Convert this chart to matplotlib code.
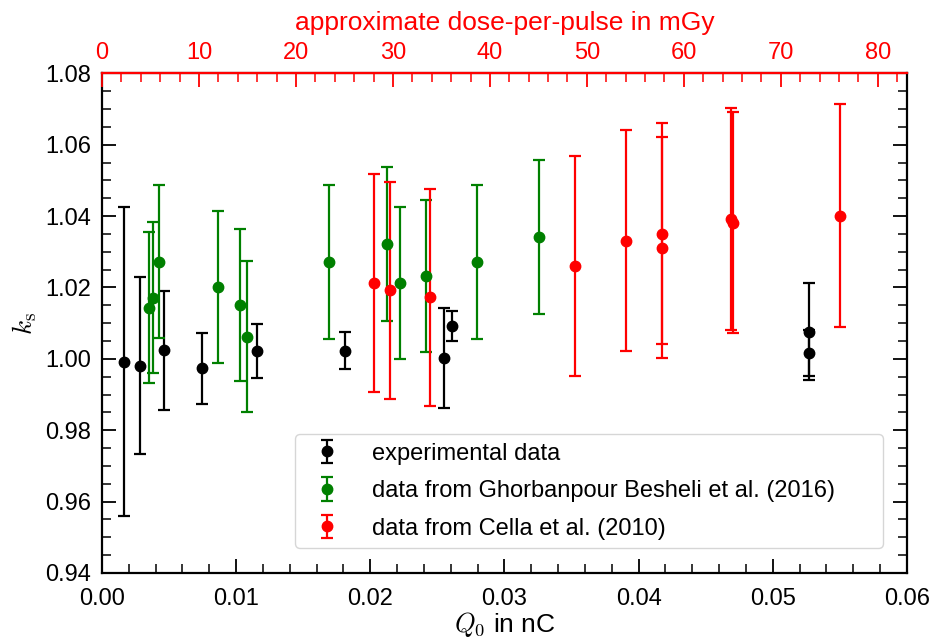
import matplotlib
matplotlib.use("Agg")
import matplotlib.pyplot as plt
from matplotlib.ticker import MultipleLocator, FormatStrFormatter

plt.rcParams['font.family'] = ['Liberation Sans', 'DejaVu Sans']
plt.rcParams['mathtext.fontset'] = 'cm'

# experimental data
exp_q = [0.00162, 0.00287, 0.00463, 0.00748, 0.01156, 0.01811, 0.02550, 0.02608, 0.05270, 0.05270]
exp_k = [0.9992, 0.9981, 1.0024, 0.9973, 1.0021, 1.0023, 1.0002, 1.0093, 1.0076, 1.0016]
exp_err = [0.0433, 0.0248, 0.0166, 0.0100, 0.0076, 0.0052, 0.0140, 0.0042, 0.0136, 0.0064]

# Ghorbanpour Besheli et al. (2016)
gb_q = [0.00351, 0.00381, 0.00426, 0.00865, 0.01026, 0.01081, 0.01689, 0.02128, 0.02225, 0.02419, 0.02794, 0.03258]
gb_k = [1.0143, 1.0171, 1.0272, 1.0201, 1.0152, 1.0062, 1.0271, 1.0321, 1.0213, 1.0232, 1.0271, 1.0341]
gb_err = [0.0212, 0.0212, 0.0214, 0.0214, 0.0213, 0.0211, 0.0215, 0.0216, 0.0213, 0.0214, 0.0215, 0.0216]

# Cella et al. (2010)
ce_q = [0.02027, 0.02148, 0.02446, 0.03528, 0.03906, 0.04176, 0.04176, 0.04692, 0.04705, 0.05504]
ce_k = [1.0213, 1.0192, 1.0173, 1.0261, 1.0331, 1.0311, 1.0351, 1.0392, 1.0382, 1.0401]
ce_err = [0.0305, 0.0304, 0.0304, 0.0308, 0.0310, 0.0310, 0.0310, 0.0310, 0.0310, 0.0312]

xlim = (0.0, 0.06)
ylim = (0.94, 1.08)
top_lim = (0.0, 83.0)

fig = plt.figure(figsize=(9.32, 6.42), dpi=100)
ax = fig.add_axes([0.1094, 0.1075, 0.8637, 0.7783])

ekw = dict(fmt='o', markersize=7.5, elinewidth=1.6, capsize=4, capthick=1.6)
ax.errorbar(exp_q, exp_k, yerr=exp_err, color='black', label='experimental data', **ekw)
ax.errorbar(gb_q, gb_k, yerr=gb_err, color='green',
            label='data from Ghorbanpour Besheli et al. (2016)', **ekw)
ax.errorbar(ce_q, ce_k, yerr=ce_err, color='red', label='data from Cella et al. (2010)', **ekw)

ax.set_xlim(*xlim)
ax.set_ylim(*ylim)
ax.xaxis.set_major_locator(MultipleLocator(0.01))
ax.xaxis.set_minor_locator(MultipleLocator(0.002))
ax.yaxis.set_major_locator(MultipleLocator(0.02))
ax.yaxis.set_minor_locator(MultipleLocator(0.005))
ax.xaxis.set_major_formatter(FormatStrFormatter('%.2f'))
ax.yaxis.set_major_formatter(FormatStrFormatter('%.2f'))
ax.tick_params(which='both', direction='in', right=True, top=False, labelsize=17)
ax.tick_params(axis='x', pad=11)
ax.tick_params(axis='y', pad=8)
ax.tick_params(which='major', length=10, width=1.3)
ax.tick_params(which='minor', length=6.5, width=1.1)
for s in ax.spines.values():
    s.set_linewidth(1.6)
ax.set_xlabel(r'$Q_0$ in nC', fontsize=19, labelpad=0)
ax.set_ylabel(r'$k_\mathrm{s}$', fontsize=19.5, labelpad=4)

ax2 = ax.twiny()
ax2.set_xlim(*top_lim)
ax2.xaxis.set_major_locator(MultipleLocator(10))
ax2.xaxis.set_minor_locator(MultipleLocator(2))
ax2.tick_params(which='both', direction='in', colors='red', labelsize=17, pad=7)
ax2.tick_params(which='major', length=10, width=1.3)
ax2.tick_params(which='minor', length=6.5, width=1.1)
ax2.spines['top'].set_color('red')
ax2.spines['top'].set_linewidth(1.6)
for k in ('left', 'right', 'bottom'):
    ax2.spines[k].set_visible(False)
ax2.set_xlabel('approximate dose-per-pulse in mGy', color='red', fontsize=19, labelpad=8)

leg = ax.legend(loc='lower left', bbox_to_anchor=(0.2398, 0.05, 0.7304, 0.2), mode='expand',
                fontsize=17, borderaxespad=0.0, handletextpad=0.9,
                handlelength=2.0, borderpad=0.35, labelspacing=0.66)

fig.savefig('out.png', dpi=100)
